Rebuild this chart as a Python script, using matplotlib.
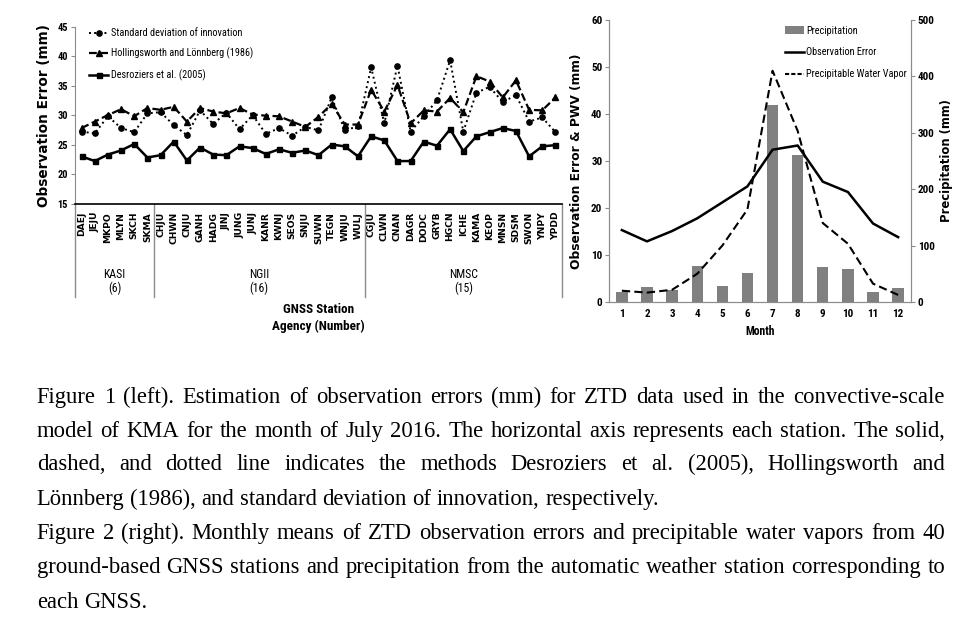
import matplotlib
matplotlib.use('Agg')
import matplotlib.pyplot as plt
import matplotlib.transforms as mtransforms
from matplotlib import font_manager
from matplotlib.patches import Patch
from matplotlib.lines import Line2D
import numpy as np

### Data ###

stations = ['DAEJ', 'JEJU', 'MKPO', 'MLYN', 'SKCH', 'SKMA',
            'CHJU', 'CHWN', 'CNJU', 'GANH', 'HADG', 'JINJ', 'JUNG', 'JUNJ',
            'KANR', 'KWNJ', 'SEOS', 'SNJU', 'SUWN', 'TEGN', 'WNJU', 'WULJ',
            'CGJU', 'CLWN', 'CNAN', 'DAGR', 'DODC', 'GRYB', 'HGCN', 'ICHE',
            'KAMA', 'KEOP', 'MNSN', 'SDSM', 'SWON', 'YNPY', 'YPDD']
agencies = ['KASI', 'NGII', 'NMSC']
agency_counts = [6, 16, 15]

std_innov = [27.2, 26.9, 29.8, 27.8, 27.1, 30.3, 30.5, 28.3, 26.6, 30.8,
             28.5, 30.4, 27.6, 30.0, 26.8, 27.8, 26.5, 28.0, 27.4, 33.0,
             27.4, 28.1, 38.1, 28.6, 38.4, 27.2, 29.8, 32.5, 39.3, 27.2,
             33.8, 34.8, 32.2, 33.4, 28.9, 29.6, 27.1]
hollingsworth = [27.8, 28.9, 30.0, 31.0, 29.8, 31.2, 30.9, 31.4, 28.9, 31.2,
                 30.6, 30.3, 31.2, 30.1, 29.9, 29.8, 28.9, 28.0, 29.7, 31.9,
                 28.4, 28.4, 34.3, 30.6, 35.1, 28.6, 30.8, 30.6, 32.9, 30.5,
                 36.6, 35.7, 33.0, 35.9, 30.9, 30.8, 33.0]
desroziers = [23.0, 22.2, 23.3, 24.0, 25.1, 22.8, 23.2, 25.5, 22.3, 24.5,
              23.3, 23.2, 24.7, 24.4, 23.4, 24.2, 23.6, 24.0, 23.2, 25.0,
              24.7, 23.0, 26.4, 25.7, 22.2, 22.2, 25.5, 24.8, 27.6, 23.9,
              26.4, 27.1, 27.8, 27.3, 23.0, 24.7, 24.9]

months = [1, 2, 3, 4, 5, 6, 7, 8, 9, 10, 11, 12]
precip = [18, 27, 22, 64, 28, 51, 350, 261, 62, 58, 18, 24]
obs_err = [15.3, 12.9, 15.1, 17.8, 21.2, 24.6, 32.4, 33.3, 25.6, 23.4, 16.7, 13.8]
pwv = [2.4, 2.0, 2.6, 6.0, 12.0, 19.7, 49.2, 36.4, 16.8, 12.4, 3.9, 1.5]

caption = [
    ("Figure 1 (left). Estimation of observation errors (mm) for ZTD data used in the convective-scale", True),
    ("model of KMA for the month of July 2016. The horizontal axis represents each station. The solid,", True),
    ("dashed, and dotted line indicates the methods Desroziers et al. (2005), Hollingsworth and", True),
    ("Lönnberg (1986), and standard deviation of innovation, respectively.", False),
    ("Figure 2 (right). Monthly means of ZTD observation errors and precipitable water vapors from 40", True),
    ("ground-based GNSS stations and precipitation from the automatic weather station corresponding to", True),
    ("each GNSS.", False),
]


def pick_font(names):
    for n in names:
        try:
            font_manager.findfont(n, fallback_to_default=False)
            return n
        except ValueError:
            pass
    return 'DejaVu Sans'


narrow = pick_font(['Liberation Sans Narrow', 'Roboto Condensed', 'Liberation Sans'])
serif = pick_font(['Liberation Serif', 'DejaVu Serif'])

W, H = 962, 630
fig = plt.figure(figsize=(W / 100, H / 100), dpi=100)
fig.patch.set_facecolor('white')

GRAY = '#8c8c8c'

### Left chart ###
ax1 = fig.add_axes([75 / W, 1 - 203.5 / H, 487 / W, 176.8 / H])
x = np.arange(len(stations))
ax1.plot(x, std_innov, color='black', ls=':', lw=1.4, marker='o', ms=3.8,
         label='Standard deviation of innovation')
ax1.plot(x, hollingsworth, color='black', ls='--', dashes=(3.5, 1.6), lw=1.6,
         marker='^', ms=4.2, label='Hollingsworth and Lönnberg (1986)')
ax1.plot(x, desroziers, color='black', ls='-', lw=1.8, marker='s', ms=3.6,
         label='Desroziers et al. (2005)')

ax1.set_xlim(-0.5, len(stations) - 0.5)
ax1.set_ylim(15, 45)
ax1.set_yticks(np.arange(15, 46, 5))
for s in ['top', 'right']:
    ax1.spines[s].set_visible(False)
ax1.spines['left'].set_color(GRAY)
ax1.spines['bottom'].set_color('black')
ax1.spines['bottom'].set_linewidth(1.2)
ax1.tick_params(axis='y', length=3, color=GRAY, labelsize=7.5, pad=2)
for lbl in ax1.get_yticklabels():
    lbl.set_family(narrow)
    lbl.set_fontweight('bold')
ax1.set_xticks(x)
ax1.set_xticklabels(stations, rotation=90, fontsize=6.6, fontweight='bold', va='top')
ax1.tick_params(axis='x', length=0, pad=6)

ax1.set_ylabel('Observation Error (mm)', fontsize=9.8, fontweight='bold', labelpad=5)

# group separators and agency labels below the axis
trans = mtransforms.blended_transform_factory(ax1.transData, ax1.transAxes)
bounds = np.concatenate([[0], np.cumsum(agency_counts)]) - 0.5
for b in bounds:
    ax1.plot([b, b], [0, -0.53], transform=trans, color=GRAY, lw=1.0, clip_on=False)
for i, (name, n) in enumerate(zip(agencies, agency_counts)):
    cx = (bounds[i] + bounds[i + 1]) / 2
    ax1.text(cx, -0.404, name, transform=trans, ha='center', va='center',
             fontsize=8.5, family=narrow)
    ax1.text(cx, -0.478, '(%d)' % n, transform=trans, ha='center', va='center',
             fontsize=8.5, family=narrow)
ax1.text(0.5, -0.597, 'GNSS Station', transform=ax1.transAxes, ha='center', va='center',
         fontsize=9.5, fontweight='bold', family=narrow)
ax1.text(0.5, -0.693, 'Agency (Number)', transform=ax1.transAxes, ha='center', va='center',
         fontsize=9.5, fontweight='bold', family=narrow)

ax1.legend(loc='upper left', bbox_to_anchor=(0.02, 1.015), frameon=False,
           prop={'family': narrow, 'size': 7.4}, handlelength=1.9,
           handletextpad=0.3, labelspacing=0.95, borderaxespad=0)

### Right chart ###
ax2 = fig.add_axes([609.3 / W, 1 - 302 / H, 301.4 / W, 282 / H])
ax3 = ax2.twinx()
ax3.set_zorder(ax2.get_zorder() - 1)
ax2.patch.set_visible(False)

ax3.bar(months, precip, width=0.45, color='#808080', label='Precipitation')
ax2.plot(months, obs_err, color='black', lw=1.8, label='Observation Error')
ax2.plot(months, pwv, color='black', lw=1.5, ls='--', dashes=(4, 2),
         label='Precipitable Water Vapor')

ax2.set_xlim(0.5, 12.5)
ax2.set_ylim(0, 60)
ax3.set_ylim(0, 500)
ax2.set_yticks(np.arange(0, 61, 10))
ax3.set_yticks(np.arange(0, 501, 100))
ax2.set_xticks(months)
for a in (ax2, ax3):
    a.spines['top'].set_visible(False)
    for s in ['left', 'right', 'bottom']:
        a.spines[s].set_color(GRAY)
ax2.tick_params(axis='y', length=3, color=GRAY, labelsize=8, pad=2)
ax3.tick_params(axis='y', length=3, color=GRAY, labelsize=8, pad=2)
ax2.tick_params(axis='x', length=0, labelsize=8, pad=5)
for lbl in ax2.get_yticklabels() + ax3.get_yticklabels() + ax2.get_xticklabels():
    lbl.set_family(narrow)
    lbl.set_fontweight('bold')

ax2.set_xlabel('Month', fontsize=8.5, fontweight='bold', family=narrow, labelpad=4)
ax2.set_ylabel('Observation Error & PWV (mm)', fontsize=8.8, fontweight='bold', labelpad=6)
ax3.set_ylabel('Precipitation (mm)', fontsize=8.4, fontweight='bold', labelpad=4)

handles = [Patch(facecolor='#808080', label='Precipitation'),
           Line2D([], [], color='black', lw=1.8, label='Observation Error'),
           Line2D([], [], color='black', lw=1.5, ls='--', dashes=(2, 1),
                  label='Precipitable Water Vapor')]
ax2.legend(handles=handles, loc='upper right', bbox_to_anchor=(1.0, 0.995), frameon=False,
           prop={'family': narrow, 'size': 7.4}, handlelength=1.9, handleheight=0.7,
           handletextpad=0.15, labelspacing=1.15, borderaxespad=0)

### Caption (justified) ###
renderer = fig.canvas.get_renderer()
x_left, x_right = 36.7, 945.0
baselines = [403.3, 436.7, 470.0, 505.0, 539.0, 573.0, 607.5]
fsize = 16.3
space = 0.25 * fsize * 100 / 72
for (line, justify), yb in zip(caption, baselines):
    words = line.split(' ')
    texts = [fig.text(0, 1 - yb / H, w, fontsize=fsize, family=serif, va='baseline')
             for w in words]
    widths = [t.get_window_extent(renderer).width for t in texts]
    if justify and len(words) > 1:
        gap = (x_right - x_left - sum(widths)) / (len(words) - 1)
    else:
        gap = space
    xp = x_left
    for t, w in zip(texts, widths):
        t.set_x(xp / W)
        xp += w + gap

fig.savefig('out.png', dpi=100)
